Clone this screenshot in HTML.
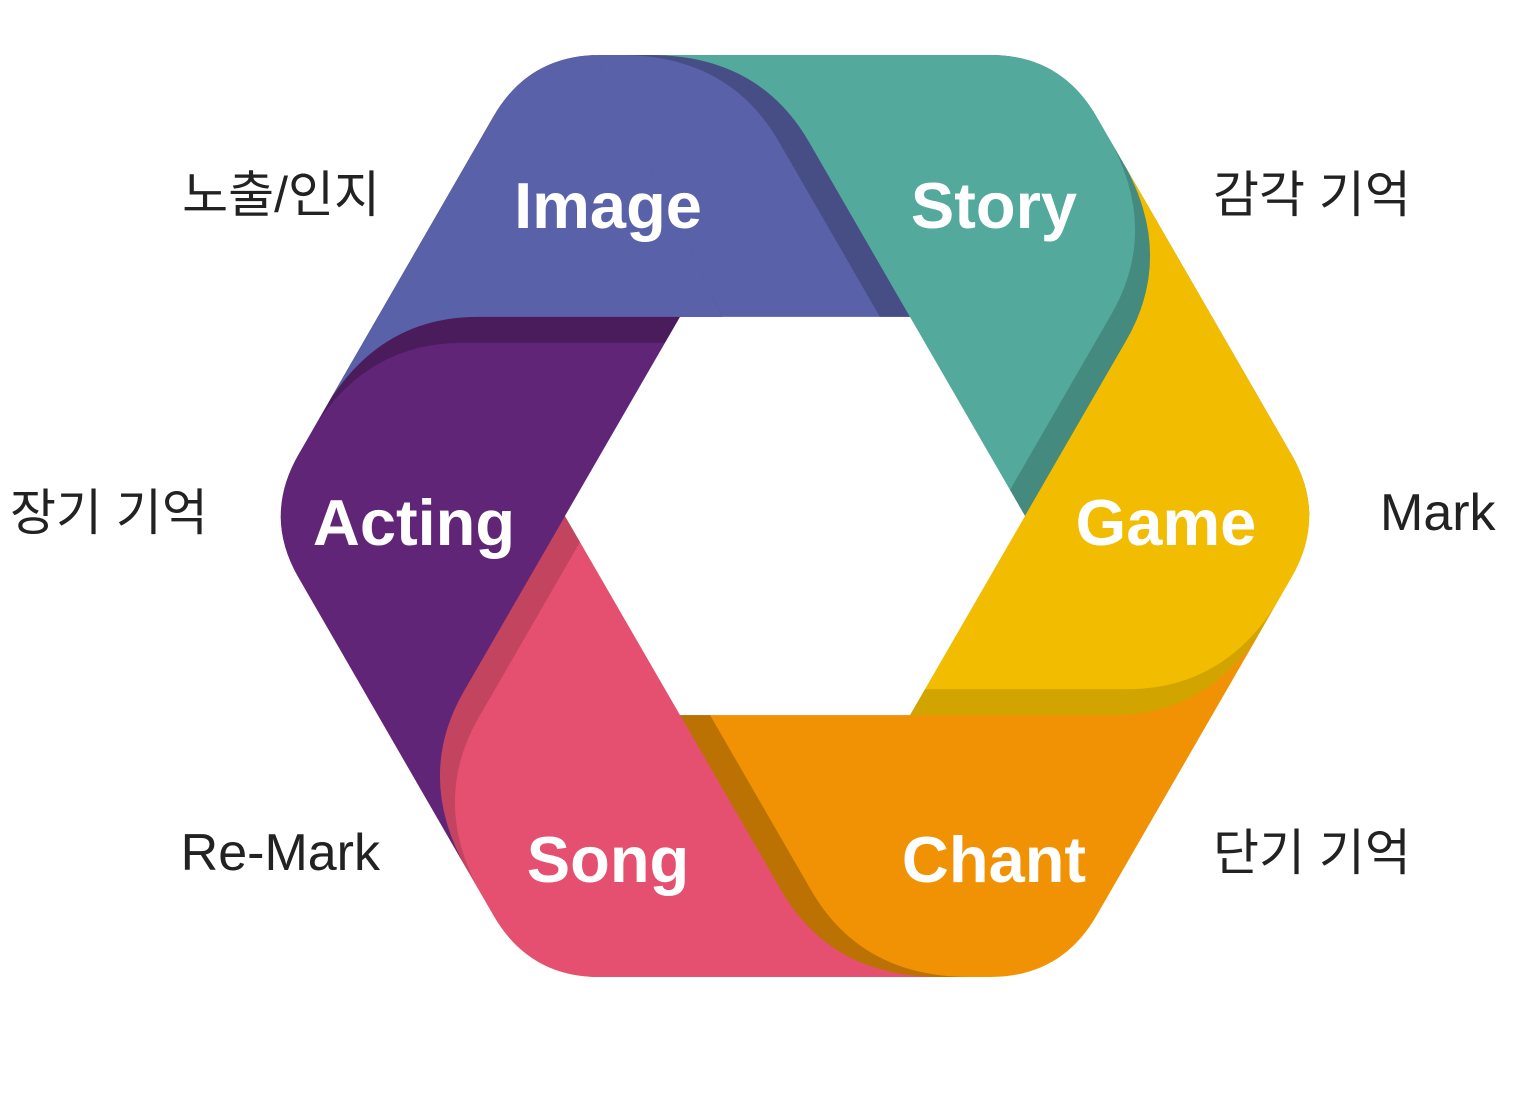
<!DOCTYPE html>
<html><head><meta charset="utf-8">
<style>
html,body{margin:0;padding:0;background:#fff;width:1523px;height:1097px;overflow:hidden;position:relative;}
svg{display:block;position:absolute;left:0;top:0;overflow:hidden;}
.lbl{font-family:"Liberation Sans","Noto Sans CJK KR",sans-serif;font-weight:bold;font-size:65px;fill:#fff;text-anchor:middle;}
.out{font-family:"Liberation Sans","Noto Sans CJK KR",sans-serif;font-size:50px;fill:#222;}
</style></head>
<body>
<svg width="1523" height="1097" viewBox="0 0 1523 1097" xmlns="http://www.w3.org/2000/svg">
<defs>
  <clipPath id="outer">
    <path d="M600,55 L990,55 Q1061,55 1096.5,116.5 L1291.5,454.5 Q1327,516 1291.5,577.5 L1096.5,915.5 Q1061,977 990,977 L600,977 Q529,977 493.5,915.5 L298.5,577.5 Q263,516 298.5,454.5 L493.5,116.5 Q529,55 600,55 Z"/>
  </clipPath>
  <clipPath id="imgclip">
    <polygon points="820,516 570,5 200,5 200,516"/>
  </clipPath>
  <path id="seg" d="M1025,516 L910,317 L809,142 Q759,55 650,55 L650,30 L1075,30 L1345,516 Z"/>
</defs>
<g clip-path="url(#outer)">
  <g transform="rotate(-60 795 516)"><use href="#seg" fill="#5962A8"/></g>
  <g transform="translate(-30,0)"><use href="#seg" fill="rgba(0,0,0,0.2)"/></g>
  <use href="#seg" fill="#53A99C"/>
  <g transform="rotate(60 795 516)"><g transform="translate(-30,0)"><use href="#seg" fill="rgba(0,0,0,0.18)"/></g><use href="#seg" fill="#F2BD00"/></g>
  <g transform="rotate(120 795 516)"><g transform="translate(-30,0)"><use href="#seg" fill="rgba(0,0,0,0.13)"/></g><use href="#seg" fill="#F09204"/></g>
  <g transform="rotate(180 795 516)"><g transform="translate(-30,0)"><use href="#seg" fill="rgba(0,0,0,0.22)"/></g><use href="#seg" fill="#E55070"/></g>
  <g transform="rotate(240 795 516)"><g transform="translate(-30,0)"><use href="#seg" fill="rgba(0,0,0,0.15)"/></g><use href="#seg" fill="#612577"/></g>
  <g clip-path="url(#imgclip)">
    <g transform="rotate(-60 795 516)"><g transform="translate(-30,0)"><use href="#seg" fill="rgba(0,0,0,0.22)"/></g><use href="#seg" fill="#5962A8"/></g>
  </g>
  <polygon points="1025,516 910,317 680,317 565,516 680,715 910,715" fill="#fff"/>
</g>
<text class="lbl" x="608" y="228">Image</text>
<text class="lbl" x="994" y="228">Story</text>
<text class="lbl" x="414" y="545">Acting</text>
<text class="lbl" x="1166" y="545">Game</text>
<text class="lbl" x="608" y="882">Song</text>
<text class="lbl" x="994" y="882">Chant</text>
<text class="out" x="380" y="212" text-anchor="end">노출/인지</text>
<text class="out" x="1213" y="212">감각 기억</text>
<text class="out" x="10" y="530">장기 기억</text>
<text class="out" x="1380" y="530" style="font-size:52px">Mark</text>
<text class="out" x="380" y="870" text-anchor="end" style="font-size:52px">Re-Mark</text>
<text class="out" x="1213" y="870">단기 기억</text>
</svg>
</body></html>
